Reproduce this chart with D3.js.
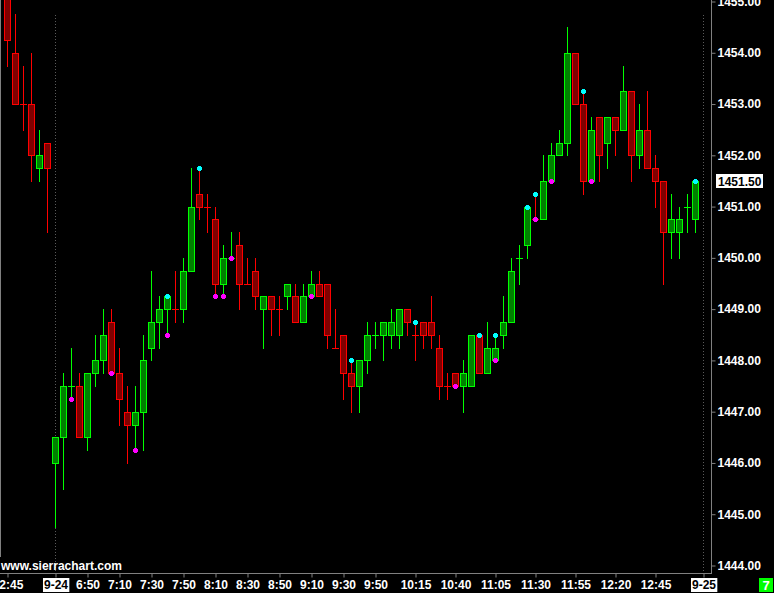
<!DOCTYPE html>
<html><head><meta charset="utf-8">
<script src="https://cdn.jsdelivr.net/npm/d3@7"></script>
<style>html,body{margin:0;padding:0;background:#000;overflow:hidden}</style>
</head><body><svg id="c" width="774" height="593"></svg>
<script>
// OHLC of 5-minute bars (index 0 = 12:45 previous session, index 6 = 6:30 on 9-24)
const opens  = [1455.25,1454.0,1453.0,1453.0,1451.75,1452.25,
  1446.0,1446.5,1447.5,1447.5,1446.5,1447.75,1448.0,1448.75,1447.75,1447.0,1446.75,1447.0,1448.25,1448.75,1449.0,1449.0,1449.0,
  1449.75,1451.25,1451.0,1450.75,1449.5,1450.0,1450.25,1449.5,1449.75,1449.0,1449.25,1449.0,1449.25,1449.25,1448.75,1449.25,1449.5,
  1449.5,1448.25,1448.5,1447.75,1447.5,1448.0,1448.5,1448.5,1448.5,1448.5,1449.0,1448.5,1448.75,1448.75,1448.25,1447.5,1447.75,
  1447.5,1447.5,1448.5,1447.75,1448.0,1448.5,1448.75,1450.0,1450.25,1450.75,1450.75,1451.5,1452.0,1452.25,1454.0,1453.0,1451.5,
  1452.75,1452.25,1452.75,1452.5,1453.25,1452.0,1452.5,1451.75,1451.5,1450.5,1450.5,1451.0,1450.75];
const highs  = [1455.5,1454.75,1453.75,1454.0,1452.5,1452.25,
  1446.5,1447.75,1448.25,1447.75,1447.75,1448.5,1449.0,1449.0,1448.25,1447.5,1447.5,1448.5,1449.75,1449.25,1449.25,1449.75,1450.0,
  1451.75,1451.75,1451.25,1451.0,1450.25,1450.5,1450.5,1450.0,1450.0,1449.25,1449.25,1449.25,1449.5,1449.5,1449.5,1449.75,1449.75,
  1449.5,1449.0,1448.5,1448.0,1448.0,1448.75,1448.75,1448.75,1449.0,1449.0,1449.0,1448.75,1448.75,1449.25,1448.5,1447.75,1447.75,
  1448.0,1448.5,1448.5,1448.75,1448.5,1449.25,1450.0,1450.25,1451.0,1451.25,1452.0,1452.25,1452.5,1454.5,1454.0,1453.25,1452.75,
  1452.75,1452.75,1452.75,1453.75,1453.25,1453.0,1453.25,1452.0,1451.5,1451.25,1451.0,1451.25,1451.5];
const lows   = [1453.75,1453.0,1452.5,1451.5,1451.5,1450.5,
  1444.75,1445.5,1447.25,1446.5,1446.25,1447.5,1447.75,1447.75,1446.75,1446.0,1446.25,1446.25,1448.0,1448.25,1448.5,1448.75,1448.75,
  1449.75,1450.75,1450.5,1449.25,1449.25,1450.0,1449.0,1449.5,1449.0,1448.25,1448.5,1448.5,1449.0,1448.75,1448.75,1449.25,1449.25,
  1448.25,1448.25,1447.25,1447.0,1447.0,1447.75,1448.25,1448.0,1448.25,1448.25,1448.5,1448.0,1448.25,1448.25,1447.25,1447.25,1447.5,
  1447.0,1447.5,1447.75,1447.75,1448.0,1448.25,1448.75,1449.5,1450.0,1450.75,1450.75,1451.5,1452.0,1452.0,1453.0,1451.25,1451.5,
  1451.5,1451.75,1452.0,1452.5,1451.5,1451.75,1451.75,1451.0,1449.5,1450.0,1450.0,1450.5,1450.5];
const closes = [1454.25,1453.0,1453.0,1452.0,1452.0,1451.75,
  1446.5,1447.5,1447.5,1446.5,1447.75,1448.0,1448.5,1447.75,1447.25,1446.75,1447.0,1448.0,1448.75,1449.0,1449.25,1449.0,1449.75,
  1451.0,1451.0,1451.0,1449.5,1450.0,1450.0,1449.5,1449.5,1449.25,1449.25,1449.0,1449.0,1449.5,1448.75,1449.25,1449.5,1449.25,
  1448.5,1448.25,1447.75,1447.5,1448.0,1448.5,1448.5,1448.75,1448.75,1449.0,1448.75,1448.5,1448.5,1448.5,1447.5,1447.5,1447.5,
  1447.75,1448.5,1447.75,1448.25,1448.25,1448.75,1449.75,1450.0,1451.0,1450.75,1451.5,1452.0,1452.25,1454.0,1453.0,1451.5,1452.5,
  1452.0,1452.75,1452.5,1453.25,1452.0,1452.5,1451.75,1451.5,1450.5,1450.75,1450.75,1451.0,1451.5];
// colour of the dojis (open == close) that are drawn green
const greenDojis = [8, 28, 46, 64, 85];
// swing markers
const cyanBars = [20, 24, 43, 51, 59, 61, 65, 66, 72, 86];
const cyanPrices = [1449.25, 1451.75, 1448.0, 1448.75, 1448.5, 1448.5, 1451.0, 1451.25, 1453.25, 1451.5];
const magentaBars = [8, 13, 16, 20, 26, 27, 28, 38, 56, 61, 66, 68, 73];
const magentaPrices = [1447.25, 1447.75, 1446.25, 1448.5, 1449.25, 1449.25, 1450.0, 1449.25, 1447.5, 1448.0, 1450.75, 1451.5, 1451.5];
// axes
const priceTicks = [1444,1445,1446,1447,1448,1449,1450,1451,1452,1453,1454,1455];
const timeTickBars = [0, 6, 10, 14, 18, 22, 26, 30, 34, 38, 42, 46, 51, 56, 61, 66, 71, 76, 81, 87];
const timeTickLabels = ["12:45","9-24","6:50","7:10","7:30","7:50","8:10","8:30","8:50","9:10","9:30","9:50","10:15","10:40","11:05","11:30","11:55","12:20","12:45","9-25"];
const dateLabels = ["9-24","9-25"];
const sessionStarts = [6, 87];
const lastPrice = 1451.50;
const barCountLabel = "7";

const svg = d3.select("#c");
const W = 774, H = 593, plotR = 711, plotB = 573;
svg.append("rect").attr("width", W).attr("height", H).attr("fill", "#000");

const x = d3.scaleLinear().domain([0, 86]).range([7, 695]);
const y = d3.scaleLinear().domain([1444, 1455]).range([565.5, 1.5]);
const px = i => Math.round(x(i));
const py = p => Math.round(y(p)) + 0.5;

svg.append("clipPath").attr("id", "clip").append("rect")
  .attr("x", 1).attr("y", 0).attr("width", plotR - 1).attr("height", plotB);

// frame lines
svg.append("line").attr("x1", 0.5).attr("x2", 0.5).attr("y1", 0).attr("y2", 557).attr("stroke", "#808080");
svg.append("line").attr("x1", 0).attr("x2", plotR + 1).attr("y1", plotB + 0.5).attr("y2", plotB + 0.5).attr("stroke", "#808080");
svg.append("line").attr("x1", plotR + 0.5).attr("x2", plotR + 0.5).attr("y1", 0).attr("y2", plotB + 1).attr("stroke", "#808080");

// session separators
svg.append("g").selectAll("line").data(sessionStarts).join("line")
  .attr("x1", d => x(d) + 0.5).attr("x2", d => x(d) + 0.5)
  .attr("y1", 15).attr("y2", plotB)
  .attr("stroke", "#5a5a5a").attr("stroke-dasharray", "1,2");

const bars = d3.range(opens.length).map(i => ({
  i, o: opens[i], h: highs[i], l: lows[i], c: closes[i],
  up: closes[i] > opens[i] || (closes[i] === opens[i] && greenDojis.includes(i))
}));

const g = svg.append("g").attr("clip-path", "url(#clip)");
// wicks
g.selectAll("line.wick").data(bars).join("line").attr("class", "wick")
  .attr("x1", d => px(d.i) + 0.5).attr("x2", d => px(d.i) + 0.5)
  .attr("y1", d => py(d.h) - 0.5).attr("y2", d => py(d.l) + 0.5)
  .attr("stroke", d => d.up ? "#00ff00" : "#ff0000");
// bodies
g.selectAll("rect.body").data(bars.filter(d => d.o !== d.c)).join("rect").attr("class", "body")
  .attr("x", d => px(d.i) - 2.5).attr("width", 6)
  .attr("y", d => py(Math.max(d.o, d.c))).attr("height", d => py(Math.min(d.o, d.c)) - py(Math.max(d.o, d.c)))
  .attr("fill", d => d.up ? "#008000" : "#800000")
  .attr("stroke", d => d.up ? "#00ff00" : "#ff0000").attr("stroke-width", 1);
// dojis
g.selectAll("line.doji").data(bars.filter(d => d.o === d.c)).join("line").attr("class", "doji")
  .attr("x1", d => px(d.i) - 3).attr("x2", d => px(d.i) + 4)
  .attr("y1", d => py(d.c)).attr("y2", d => py(d.c))
  .attr("stroke", d => d.up ? "#00ff00" : "#ff0000");

// markers
function markers(idx, prices, color) {
  const data = idx.map((b, k) => ({ b, p: prices[k] }));
  const mg = g.append("g").attr("fill", color);
  mg.selectAll("rect.h").data(data).join("rect")
    .attr("x", d => px(d.b) - 2).attr("y", d => Math.round(y(d.p)) - 1).attr("width", 5).attr("height", 3);
  mg.selectAll("rect.v").data(data).join("rect")
    .attr("x", d => px(d.b) - 1).attr("y", d => Math.round(y(d.p)) - 2).attr("width", 3).attr("height", 5);
}
markers(cyanBars, cyanPrices, "#00ffff");
markers(magentaBars, magentaPrices, "#ff00ff");

const font = "'Liberation Sans', Arial, sans-serif";

// right price axis
const ya = svg.append("g").attr("transform", `translate(${plotR + 0.5},0)`)
  .call(d3.axisRight(y).tickValues(priceTicks).tickSize(4).tickPadding(2).tickFormat(d => d.toFixed(2)));
ya.select(".domain").remove();
ya.selectAll(".tick line").attr("stroke", "#808080");
ya.selectAll(".tick text").attr("fill", "#fff").attr("font-family", font).attr("font-weight", "bold").attr("font-size", 12);

// last price box
const lp = svg.append("g").attr("transform", `translate(0,${Math.round(y(lastPrice))})`);
lp.append("rect").attr("x", 716).attr("y", -7).attr("width", 47).attr("height", 14).attr("fill", "#fff");
lp.append("text").attr("x", 718).attr("y", 4.5).attr("fill", "#000").attr("font-family", font)
  .attr("font-weight", "bold").attr("font-size", 12).text(lastPrice.toFixed(2));

// bottom time axis
const xa = svg.append("g").attr("transform", `translate(0.5,${plotB + 0.5})`)
  .call(d3.axisBottom(x).tickValues(timeTickBars).tickSize(4).tickPadding(3).tickFormat((d, k) => timeTickLabels[k]));
xa.select(".domain").remove();
xa.selectAll(".tick line").attr("stroke", "#808080");
xa.selectAll(".tick text").attr("fill", "#fff").attr("font-family", font).attr("font-weight", "bold").attr("font-size", 12);
xa.selectAll(".tick").each(function () {
  const t = d3.select(this).select("text");
  if (dateLabels.includes(t.text())) {
    const bb = t.node().getBBox();
    d3.select(this).insert("rect", "text").attr("x", bb.x - 1).attr("y", bb.y).attr("width", bb.width + 2).attr("height", bb.height)
      .attr("fill", "#fff");
    t.attr("fill", "#000");
  }
});

// watermark
svg.append("text").attr("x", 1).attr("y", 570).attr("fill", "#fff").attr("font-family", font)
  .attr("font-weight", "bold").attr("font-size", 12).text("www.sierrachart.com");

// bar counter box
svg.append("rect").attr("x", 759).attr("y", 578).attr("width", 14).attr("height", 14).attr("fill", "#00ff00");
svg.append("text").attr("x", 766).attr("y", 590).attr("text-anchor", "middle").attr("fill", "#fff").attr("font-family", font)
  .attr("font-weight", "bold").attr("font-size", 13).text(barCountLabel);
</script></body></html>
